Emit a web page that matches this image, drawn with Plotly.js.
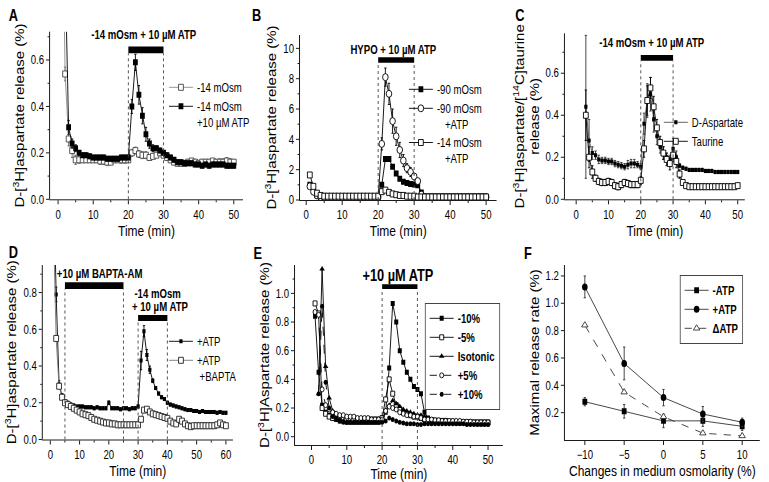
<!DOCTYPE html>
<html><head><meta charset="utf-8">
<script src="https://cdn.plot.ly/plotly-3.0.1.min.js"></script>
<style>
html,body{margin:0;padding:0;background:#fff;overflow:hidden;width:769px;height:482px}
#chart{width:961px;height:482px;transform:scaleX(0.8);transform-origin:0 0}
</style>
</head><body><div id="chart"></div>
<script>
// ---------------- DATA ----------------
// Panel A
const A_time = [1,2,3,4,5,6,7,8,9,10,11,12,13,14,15,16,17,18,19,20,21,22,23,24,25,26,27,28,29,30,31,32,33,34,35,36,37,38,39,40,41,42,43,44,45,46,47,48,49,50];
const A_hypo = [1.6,0.54,0.26,0.21,0.17,0.17,0.17,0.17,0.17,0.17,
  0.17,0.165,0.165,0.16,0.16,0.17,0.17,0.17,0.17,0.17,
  0.20,0.21,0.195,0.19,0.19,0.18,0.185,0.19,0.20,0.19,
  0.18,0.17,0.16,0.155,0.155,0.155,0.16,0.165,0.16,0.155,
  0.16,0.16,0.16,0.165,0.16,0.16,0.16,0.165,0.16,0.16];
const A_hypo_err = [0,0.03,0.03,0.03,0.02,0.015,0.01,0.01,0.01,0.01,
  0.01,0.015,0.015,0.015,0.01,0.01,0.01,0.015,0.015,0.01,
  0.015,0.015,0.015,0.015,0.015,0.01,0.01,0.01,0.01,0.01,
  0.01,0.01,0.01,0.01,0.01,0.01,0.01,0.01,0.01,0.01,
  0.01,0.01,0.01,0.01,0.01,0.015,0.015,0.015,0.015,0.01];
const A_atp = [1.5,1.0,0.31,0.24,0.22,0.20,0.19,0.19,0.185,0.18,
  0.18,0.18,0.18,0.175,0.175,0.175,0.175,0.18,0.18,0.18,
  0.40,0.59,0.45,0.36,0.28,0.24,0.22,0.22,0.21,0.20,
  0.19,0.18,0.17,0.16,0.16,0.155,0.155,0.155,0.15,0.15,
  0.145,0.15,0.145,0.15,0.15,0.15,0.15,0.145,0.145,0.145];
const A_atp_err = [0,0,0.03,0.02,0.015,0.01,0.01,0.01,0.01,0.01,
  0.01,0.01,0.01,0.01,0.01,0.01,0.01,0.01,0.01,0.01,
  0.03,0.035,0.04,0.035,0.03,0.02,0.015,0.01,0.01,0.01,
  0.01,0.01,0.01,0.01,0.01,0.01,0.01,0.01,0.01,0.01,
  0.01,0.01,0.01,0.01,0.01,0.01,0.01,0.01,0.01,0.01];

// Panel B
const B_time = A_time;
const B_m90 = [1.0,0.6,0.3,0.15,0.15,0.15,0.15,0.15,0.15,0.15,
  0.15,0.15,0.15,0.15,0.15,0.15,0.15,0.15,0.15,0.15,
  1.0,2.7,2.7,2.2,1.75,1.4,1.2,1.12,1.05,1.02,
  0.98,0.5,0.15,0.15,0.15,0.15,0.15,0.15,0.15,0.15,
  0.15,0.15,0.15,0.15,0.15,0.15,0.15,0.15,0.15,0.15];
const B_m90atp = [0.9,0.55,0.3,0.2,0.2,0.2,0.2,0.2,0.2,0.2,
  0.2,0.2,0.2,0.2,0.2,0.2,0.2,0.2,0.2,0.2,
  3.7,8.1,7.0,5.2,4.2,3.3,2.6,2.1,1.85,1.55,
  1.25,0.35,0.2,0.2,0.2,0.2,0.2,0.2,0.2,0.2,
  0.2,0.2,0.2,0.2,0.2,0.2,0.2,0.2,0.2,0.2];
const B_m90atp_err = [0.1,0.1,0.05,0.03,0.03,0.03,0.03,0.03,0.03,0.03,
  0.03,0.03,0.03,0.03,0.03,0.03,0.03,0.03,0.03,0.03,
  0.4,0.6,0.7,0.8,0.6,0.5,0.4,0.3,0.3,0.2,
  0.15,0.05,0.03,0.03,0.03,0.03,0.03,0.03,0.03,0.03,
  0.03,0.03,0.03,0.03,0.03,0.03,0.03,0.03,0.03,0.03];
const B_m14atp = [1.65,0.9,0.45,0.3,0.25,0.25,0.25,0.25,0.25,0.25,
  0.25,0.25,0.25,0.25,0.25,0.25,0.25,0.25,0.25,0.25,
  0.55,0.65,0.5,0.4,0.35,0.3,0.3,0.25,0.25,0.25,
  0.2,0.2,0.2,0.2,0.2,0.2,0.2,0.2,0.2,0.2,
  0.2,0.2,0.2,0.2,0.2,0.2,0.2,0.2,0.2,0.2];

// Panel C
const C_time = [3,4,5,6,7,8,9,10,11,12,13,14,15,16,17,18,19,20,21,22,23,24,25,26,27,28,29,30,31,32,33,34,35,36,37,38,39,40,41,42,43,44,45,46,47,48,49,50];
const C_asp = [0.44,0.28,0.22,0.21,0.19,0.185,0.185,0.18,0.18,0.17,
  0.165,0.16,0.155,0.165,0.17,0.17,0.165,0.155,0.36,0.47,
  0.50,0.38,0.30,0.25,0.22,0.20,0.19,0.24,0.20,0.16,
  0.15,0.145,0.14,0.14,0.14,0.14,0.14,0.135,0.135,0.135,
  0.13,0.13,0.13,0.13,0.13,0.13,0.13,0.13];
const C_asp_err = [0.34,0.1,0.03,0.02,0.02,0.015,0.015,0.015,0.015,0.015,
  0.015,0.015,0.015,0.02,0.02,0.02,0.015,0.015,0.05,0.08,
  0.08,0.06,0.04,0.03,0.03,0.02,0.02,0.05,0.03,0.01,
  0.008,0.008,0.008,0.008,0.008,0.008,0.008,0.008,0.008,0.008,
  0.008,0.008,0.008,0.008,0.008,0.008,0.008,0.008];
const C_tau = [0.40,0.20,0.13,0.10,0.085,0.08,0.08,0.085,0.08,0.065,
  0.06,0.07,0.08,0.075,0.07,0.07,0.07,0.09,0.24,0.47,
  0.53,0.44,0.34,0.27,0.22,0.19,0.17,0.21,0.18,0.12,
  0.08,0.065,0.06,0.06,0.06,0.06,0.06,0.06,0.06,0.06,
  0.06,0.06,0.06,0.06,0.06,0.06,0.06,0.065];
const C_tau_err = [0.12,0.05,0.03,0.015,0.015,0.015,0.015,0.015,0.015,0.015,
  0.015,0.015,0.015,0.015,0.015,0.015,0.015,0.02,0.04,0.07,
  0.05,0.05,0.04,0.03,0.03,0.03,0.03,0.03,0.03,0.02,
  0.008,0.008,0.008,0.008,0.008,0.008,0.008,0.008,0.008,0.008,
  0.008,0.008,0.008,0.008,0.008,0.008,0.008,0.008];

// Panel D
const D_time = [1,2,3,4,5,6,7,8,9,10,11,12,13,14,15,16,17,18,19,20,21,22,23,24,25,26,27,28,29,30,31,32,33,34,35,36,37,38,39,40,41,42,43,44,45,46,47,48,49,50,51,52,53,54,55,56,57,58,59,60];
const D_atp = [1.5,0.79,0.30,0.24,0.21,0.20,0.19,0.185,0.18,0.18,
  0.18,0.175,0.175,0.175,0.17,0.175,0.17,0.17,0.17,0.20,
  0.17,0.17,0.17,0.165,0.17,0.17,0.165,0.17,0.17,0.18,
  0.43,0.59,0.46,0.38,0.32,0.28,0.25,0.23,0.22,0.20,
  0.19,0.185,0.18,0.175,0.17,0.165,0.16,0.16,0.155,0.155,
  0.15,0.155,0.15,0.15,0.15,0.15,0.145,0.15,0.145,0.145];
const D_atp_err = [0,0.04,0.02,0.01,0.008,0.008,0.008,0.008,0.008,0.008,
  0.008,0.008,0.008,0.008,0.008,0.008,0.008,0.008,0.008,0.01,
  0.008,0.008,0.008,0.008,0.008,0.008,0.008,0.008,0.008,0.008,
  0.05,0.03,0.03,0.02,0.01,0.008,0.008,0.008,0.008,0.008,
  0.008,0.008,0.008,0.008,0.008,0.008,0.008,0.008,0.008,0.008,
  0.008,0.008,0.008,0.008,0.008,0.008,0.008,0.008,0.008,0.008];
const D_bapta = [1.2,0.55,0.29,0.23,0.20,0.19,0.18,0.17,0.16,0.15,
  0.14,0.135,0.13,0.12,0.11,0.105,0.10,0.095,0.09,0.09,
  0.085,0.085,0.08,0.08,0.08,0.08,0.08,0.08,0.08,0.08,
  0.11,0.16,0.165,0.15,0.14,0.135,0.13,0.125,0.12,0.115,
  0.10,0.09,0.085,0.11,0.10,0.085,0.075,0.07,0.075,0.075,
  0.075,0.075,0.075,0.075,0.075,0.075,0.08,0.09,0.08,0.075];

// Panel E
const E_time = A_time;
const E_m10 = [0.84,0.45,0.22,0.17,0.15,0.13,0.12,0.11,0.11,0.10,
  0.10,0.10,0.10,0.10,0.10,0.10,0.10,0.10,0.10,0.11,
  0.17,0.48,0.93,0.80,0.60,0.52,0.45,0.40,0.35,0.33,
  0.30,0.17,0.13,0.12,0.115,0.11,0.11,0.105,0.10,0.10,
  0.10,0.10,0.10,0.095,0.095,0.095,0.09,0.09,0.09,0.09];
const E_m5 = [0.93,0.86,0.20,0.16,0.14,0.13,0.13,0.125,0.12,0.12,
  0.12,0.12,0.12,0.12,0.12,0.12,0.12,0.12,0.12,0.13,
  0.26,0.40,0.30,0.22,0.19,0.17,0.16,0.15,0.14,0.14,
  0.13,0.12,0.11,0.11,0.11,0.11,0.11,0.11,0.105,0.105,
  0.10,0.10,0.10,0.10,0.10,0.10,0.10,0.10,0.10,0.10];
const E_iso = [null,0.30,1.17,0.49,0.27,0.18,0.14,0.12,0.11,0.10,
  0.10,0.10,0.10,0.10,0.10,0.10,0.10,0.10,0.10,0.11,
  0.18,0.22,0.25,0.23,0.21,0.19,0.18,0.17,0.16,0.15,
  0.15,0.14,0.12,0.11,0.10,0.10,0.10,0.10,0.10,0.10,
  0.10,0.10,0.095,0.095,0.095,0.09,0.09,0.09,0.09,0.09];
const E_p5 = [0.87,0.85,0.33,0.22,0.19,0.17,0.16,0.15,0.15,0.14,
  0.14,0.14,0.13,0.13,0.13,0.13,0.12,0.12,0.12,0.12,
  0.18,0.21,0.20,0.19,0.17,0.16,0.15,0.15,0.14,0.14,
  0.13,0.12,0.12,0.12,0.115,0.115,0.11,0.11,0.11,0.11,
  0.11,0.11,0.105,0.105,0.105,0.10,0.10,0.10,0.10,0.10];
const E_p10 = [null,0.30,0.91,0.38,0.20,0.14,0.12,0.11,0.10,0.10,
  0.10,0.10,0.10,0.10,0.10,0.10,0.10,0.10,0.10,0.10,
  0.11,0.13,0.12,0.11,0.10,0.095,0.09,0.09,0.09,0.085,
  0.085,0.09,0.09,0.09,0.09,0.09,0.09,0.09,0.09,0.09,
  0.09,0.09,0.09,0.085,0.085,0.085,0.085,0.085,0.085,0.085];

// Panel F
const F_osm = [-10,-5,0,5,10];
const F_minusATP = [0.28,0.21,0.14,0.14,0.10];
const F_minusATP_err = [0.03,0.05,0.05,0.04,0.03];
const F_plusATP = [1.12,0.56,0.31,0.19,0.13];
const F_plusATP_err = [0.08,0.12,0.06,0.055,0.03];
const F_deltaATP = [0.84,0.35,0.17,0.05,0.03];

// ---------------- LAYOUT HELPERS ----------------
// The figure is drawn 1/0.8 wider and squeezed back to 769 px by CSS, to mimic the condensed lettering.
const W = 769, H = 482, SX = 0.8, W0 = Math.round(W / SX);
const NF = "Liberation Sans, Arial, sans-serif";
const px = v => v / W;
const py = v => 1 - v / H;

function axis(p0, p1, range, dtick, minor, fmt, anchor, isY, title, standoff) {
  const a = {
    domain: isY ? [py(p1), py(p0)] : [px(p0), px(p1)],
    range: range, anchor: anchor, showline: true, linecolor: '#000', linewidth: 1,
    ticks: 'outside', ticklen: 4, tickwidth: 1, tickcolor: '#000',
    tick0: 0, dtick: dtick, showgrid: false, zeroline: false, tickformat: fmt,
    tickfont: {family: NF, size: 12, color: '#000'}, fixedrange: true,
    title: {text: title, font: {family: NF, size: 15, color: '#000'}, standoff: standoff}
  };
  if (minor) a.minor = {ticks: 'outside', ticklen: 2, tickwidth: 1, tickcolor: '#000', dtick: minor, tick0: 0, showgrid: false};
  return a;
}

function errs(arr, color) {
  return {type: 'data', array: arr, visible: true, color: color || '#000', thickness: 1, width: 1.5};
}

const traces = [
  // A
  {x: A_time, y: A_hypo, name: '-14 mOsm', xaxis: 'x', yaxis: 'y', legend: 'legend', mode: 'lines+markers',
   line: {color: '#8a8a8a', width: 1}, marker: {symbol: 'square', size: 6, color: '#fff', line: {color: '#444', width: 1}},
   error_y: errs(A_hypo_err, '#666')},
  {x: A_time, y: A_atp, name: '-14 mOsm<br>+10 µM ATP', xaxis: 'x', yaxis: 'y', legend: 'legend', mode: 'lines+markers',
   line: {color: '#000', width: 1}, marker: {symbol: 'square', size: 6, color: '#000'},
   error_y: errs(A_atp_err)},
  // B
  {x: B_time, y: B_m90, name: '-90 mOsm', xaxis: 'x2', yaxis: 'y2', legend: 'legend2', mode: 'lines+markers',
   line: {color: '#000', width: 1}, marker: {symbol: 'square', size: 6, color: '#000'}},
  {x: B_time, y: B_m90atp, name: '-90 mOsm<br>&nbsp;&nbsp;&nbsp;+ATP', xaxis: 'x2', yaxis: 'y2', legend: 'legend2', mode: 'lines+markers',
   line: {color: '#000', width: 1}, marker: {symbol: 'circle', size: 7, color: '#fff', line: {color: '#000', width: 1}},
   error_y: errs(B_m90atp_err)},
  {x: B_time, y: B_m14atp, name: '-14 mOsm<br>&nbsp;&nbsp;&nbsp;+ATP', xaxis: 'x2', yaxis: 'y2', legend: 'legend2', mode: 'lines+markers',
   line: {color: '#000', width: 1}, marker: {symbol: 'square', size: 6, color: '#fff', line: {color: '#000', width: 1}}},
  // C
  {x: C_time, y: C_asp, name: 'D-Aspartate', xaxis: 'x3', yaxis: 'y3', legend: 'legend3', mode: 'lines+markers',
   line: {color: '#555', width: 1}, marker: {symbol: 'square', size: 4, color: '#000'},
   error_y: errs(C_asp_err, '#333')},
  {x: C_time, y: C_tau, name: 'Taurine', xaxis: 'x3', yaxis: 'y3', legend: 'legend3', mode: 'lines+markers',
   line: {color: '#000', width: 1}, marker: {symbol: 'square', size: 6, color: '#fff', line: {color: '#000', width: 1}},
   error_y: errs(C_tau_err)},
  // D
  {x: D_time, y: D_atp, name: '+ATP', xaxis: 'x4', yaxis: 'y4', legend: 'legend4', mode: 'lines+markers',
   line: {color: '#000', width: 1}, marker: {symbol: 'square', size: 4, color: '#000'},
   error_y: errs(D_atp_err)},
  {x: D_time, y: D_bapta, name: '+ATP<br>&nbsp;+BAPTA', xaxis: 'x4', yaxis: 'y4', legend: 'legend4', mode: 'lines+markers',
   line: {color: '#777', width: 1}, marker: {symbol: 'square', size: 6, color: '#fff', line: {color: '#222', width: 1}}},
  // E
  {x: E_time, y: E_m10, name: '<b>-10%</b>', xaxis: 'x5', yaxis: 'y5', legend: 'legend5', mode: 'lines+markers',
   line: {color: '#000', width: 1}, marker: {symbol: 'square', size: 5, color: '#000'}},
  {x: E_time, y: E_m5, name: '<b>-5%</b>', xaxis: 'x5', yaxis: 'y5', legend: 'legend5', mode: 'lines+markers',
   line: {color: '#000', width: 1}, marker: {symbol: 'square', size: 5, color: '#fff', line: {color: '#000', width: 1}}},
  {x: E_time, y: E_iso, name: '<b>Isotonic</b>', xaxis: 'x5', yaxis: 'y5', legend: 'legend5', mode: 'lines+markers',
   line: {color: '#000', width: 1}, marker: {symbol: 'triangle-up', size: 6, color: '#000'}},
  {x: E_time, y: E_p5, name: '<b>+5%</b>', xaxis: 'x5', yaxis: 'y5', legend: 'legend5', mode: 'lines+markers',
   line: {color: '#000', width: 1, dash: 'dash'}, marker: {symbol: 'circle', size: 5, color: '#fff', line: {color: '#000', width: 1}}},
  {x: E_time, y: E_p10, name: '<b>+10%</b>', xaxis: 'x5', yaxis: 'y5', legend: 'legend5', mode: 'lines+markers',
   line: {color: '#000', width: 1, dash: 'dash'}, marker: {symbol: 'circle', size: 5, color: '#000'}},
  // F
  {x: F_osm, y: F_minusATP, name: '<b>-ATP</b>', xaxis: 'x6', yaxis: 'y6', legend: 'legend6', mode: 'lines+markers',
   line: {color: '#333', width: 1}, marker: {symbol: 'square', size: 6, color: '#000'}, error_y: errs(F_minusATP_err, '#333')},
  {x: F_osm, y: F_plusATP, name: '<b>+ATP</b>', xaxis: 'x6', yaxis: 'y6', legend: 'legend6', mode: 'lines+markers',
   line: {color: '#333', width: 1}, marker: {symbol: 'circle', size: 7, color: '#000'}, error_y: errs(F_plusATP_err, '#333')},
  {x: F_osm, y: F_deltaATP, name: '<b>ΔATP</b>', xaxis: 'x6', yaxis: 'y6', legend: 'legend6', mode: 'lines+markers',
   line: {color: '#333', width: 1, dash: 'dash'}, marker: {symbol: 'triangle-up', size: 7, color: '#fff', line: {color: '#333', width: 1}}}
];

function legendAt(xp, yp, boxed) {
  return {x: px(xp), y: py(yp), xanchor: 'left', yanchor: 'top', bgcolor: 'rgba(0,0,0,0)',
    bordercolor: '#444', borderwidth: boxed ? 1 : 0, valign: 'top', tracegroupgap: 0,
    font: {family: NF, size: 12, color: '#000'}};
}

function vline(xa, ya, xv, y0, y1) {
  return {type: 'line', xref: xa, yref: ya, x0: xv, x1: xv, y0: y0, y1: y1, line: {color: '#444', width: 1, dash: 'dot'}};
}
function bar(xa, ya, x0, x1, y0, y1) {
  return {type: 'rect', xref: xa, yref: ya, x0: x0, x1: x1, y0: y0, y1: y1, fillcolor: '#000', line: {width: 0}};
}
function note(text, xp, yp, size, bold) {
  return {text: bold ? '<b>' + text + '</b>' : text, xref: 'paper', yref: 'paper', x: px(xp), y: py(yp),
    xanchor: 'center', yanchor: 'middle', showarrow: false,
    font: {family: NF, size: size, color: '#000'}};
}
const YT = 'D-[<sup>3</sup>H]aspartate release (%)';
const TT = 'Time (min)';

const layout = {
  width: W0, height: H, margin: {l: 0, r: 0, t: 0, b: 0}, paper_bgcolor: '#fff', plot_bgcolor: 'rgba(0,0,0,0)',
  showlegend: true, font: {family: NF, size: 12, color: '#000'},
  xaxis: axis(50, 243, [-2.3, 52.6], 10, 5, 'd', 'y', false, TT, 4),
  yaxis: axis(31.7, 199.3, [0, 0.722], 0.2, 0.1, '.1f', 'x', true, YT, 4),
  xaxis2: axis(300, 496.7, [-1.75, 52.9], 10, 5, 'd', 'y2', false, TT, 4),
  yaxis2: axis(35, 200, [0, 10.88], 2, 1, 'd', 'x2', true, YT, 4),
  xaxis3: axis(565, 745, [-3.5, 52.2], 10, 5, 'd', 'y3', false, TT, 4),
  yaxis3: axis(33.3, 199.3, [0, 0.79], 0.2, 0.1, '.1f', 'x3', true, 'D-[<sup>3</sup>H]aspartate/[<sup>14</sup>C]taurine<br>release (%)', 3),
  xaxis4: axis(42.7, 233, [-2.6, 62.4], 10, 5, 'd', 'y4', false, TT, 1),
  yaxis4: axis(265, 439.5, [0, 0.95], 0.2, 0.1, '.1f', 'x4', true, YT, 4),
  xaxis5: axis(295, 503, [-4.7, 54.2], 10, 5, 'd', 'y5', false, TT, 1),
  yaxis5: axis(265, 445, [-0.058, 1.198], 0.2, 0.1, '.1f', 'x5', true, 'D-[<sup>3</sup>H]Aspartate release (%)', 4),
  xaxis6: axis(565, 760, [-12.54, 12.24], 5, null, 'd', 'y6', false, 'Changes in medium osmolarity (%)', 1),
  yaxis6: Object.assign(axis(265, 440, [0, 1.28], 0.2, null, '.1f', 'x6', true, 'Maximal release rate (%)', 4),
    {tickmode: 'array', tickvals: [0.2, 0.4, 0.6, 0.8, 1.0, 1.2]}),
  legend: legendAt(165, 73, false),
  legend2: legendAt(405, 75, false),
  legend3: legendAt(660, 108, false),
  legend4: legendAt(165, 327, false),
  legend5: legendAt(425, 303, true),
  legend6: legendAt(680, 275, true),
  shapes: [
    bar('x', 'y', 20, 30, 0.629, 0.658), vline('x', 'y', 20, 0, 0.629), vline('x', 'y', 30, 0, 0.629),
    bar('x2', 'y2', 20, 30, 9.05, 9.41), vline('x2', 'y2', 20, 0, 9.05), vline('x2', 'y2', 30, 0, 9.05),
    bar('x3', 'y3', 20, 30, 0.659, 0.687), vline('x3', 'y3', 20, 0, 0.659), vline('x3', 'y3', 30, 0, 0.659),
    bar('x4', 'y4', 5, 25, 0.82, 0.856), vline('x4', 'y4', 5, 0, 0.82), vline('x4', 'y4', 25, 0, 0.82),
    bar('x4', 'y4', 30, 40, 0.645, 0.678), vline('x4', 'y4', 30, 0, 0.645), vline('x4', 'y4', 40, 0, 0.645),
    bar('x5', 'y5', 20, 30, 1.03, 1.063), vline('x5', 'y5', 20, -0.058, 1.03), vline('x5', 'y5', 30, -0.058, 1.03)
  ],
  annotations: [
    note('A', 14, 15, 16, true), note('B', 257, 15, 16, true), note('C', 520, 15, 16, true),
    note('D', 14, 252, 16, true), note('E', 258, 253, 16, true), note('F', 528, 253, 16, true),
    note('-14 mOsm + 10 µM ATP', 144, 35, 12, true),
    note('HYPO + 10 µM ATP', 393, 50, 12, true),
    note('-14 mOsm + 10 µM ATP', 652, 43, 12, true),
    note('+10 µM BAPTA-AM', 100, 274, 12, true),
    note('-14 mOsm', 158, 294, 12, true),
    note('+ 10 µM ATP', 160, 307, 12, true),
    note('+10 µM ATP', 398, 275, 16, true)
  ]
};

Plotly.newPlot('chart', traces, layout, {displayModeBar: false, staticPlot: true});
</script>
</body></html>
